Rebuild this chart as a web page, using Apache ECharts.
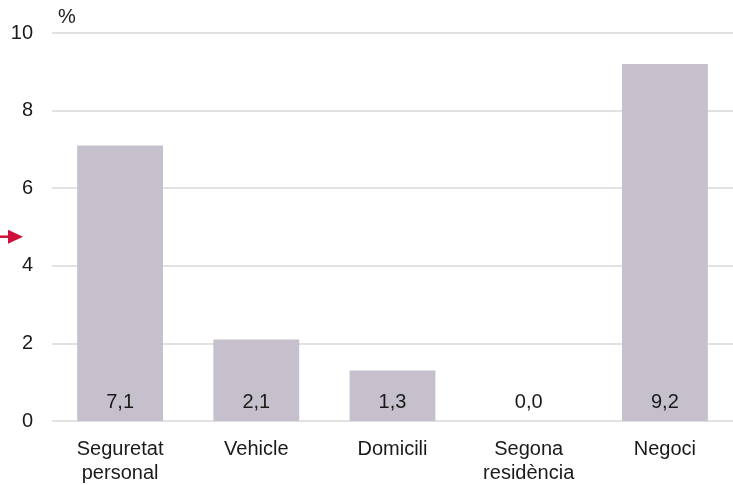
<!DOCTYPE html>
<html><head><meta charset="utf-8">
<script src="https://cdn.jsdelivr.net/npm/echarts@6/dist/echarts.min.js"></script>
<style>html,body{margin:0;padding:0;background:#fff}#c{width:733px;height:485px}</style>
</head><body><div id="c"></div>
<script>
const categories = ['Seguretat\npersonal', 'Vehicle', 'Domicili', 'Segona\nresidència', 'Negoci'];
const values = [7.1, 2.1, 1.3, 0.0, 9.2];
const arrowValue = 4.75;
const yTicks = [0, 2, 4, 6, 8, 10];

const chart = echarts.init(document.getElementById('c'));
const font = 'Liberation Sans, Arial, sans-serif';
chart.setOption({
  animation: false,
  grid: { left: 52, right: 0, top: 33, bottom: 59 },
  xAxis: {
    type: 'category', data: categories,
    axisLine: { show: false }, axisTick: { show: false },
    axisLabel: { color: '#1a1a1a', fontSize: 20, fontFamily: font, margin: 16, lineHeight: 24 }
  },
  yAxis: {
    type: 'value', min: yTicks[0], max: yTicks[yTicks.length-1], interval: 2,
    name: '%', nameLocation: 'end', nameGap: 6,
    nameTextStyle: { color: '#1a1a1a', fontSize: 20, fontFamily: font, align: 'left', padding: [0,0,0,6] },
    axisLine: { show: false }, axisTick: { show: false },
    axisLabel: { color: '#1a1a1a', fontSize: 20, fontFamily: font, margin: 19 },
    splitLine: { lineStyle: { color: '#d9d9d9', width: 1.5 } }
  },
  series: [{
    type: 'bar', data: values, barWidth: '63%',
    itemStyle: { color: '#c6bfcc' },
    label: { show: true, position: 'insideBottom', distance: 9, color: '#1a1a1a', fontSize: 20, fontFamily: font,
      formatter: p => p.value.toFixed(1).replace('.', ',') }
  }]
});
const y = chart.convertToPixel({ yAxisIndex: 0 }, arrowValue);
chart.setOption({
  graphic: [
    { type: 'line', shape: { x1: 0, y1: y, x2: 10, y2: y }, style: { stroke: '#d0103a', lineWidth: 2.5 } },
    { type: 'polygon', shape: { points: [[8, y-7], [23, y], [8, y+7]] }, style: { fill: '#d0103a' } }
  ]
});
</script></body></html>
